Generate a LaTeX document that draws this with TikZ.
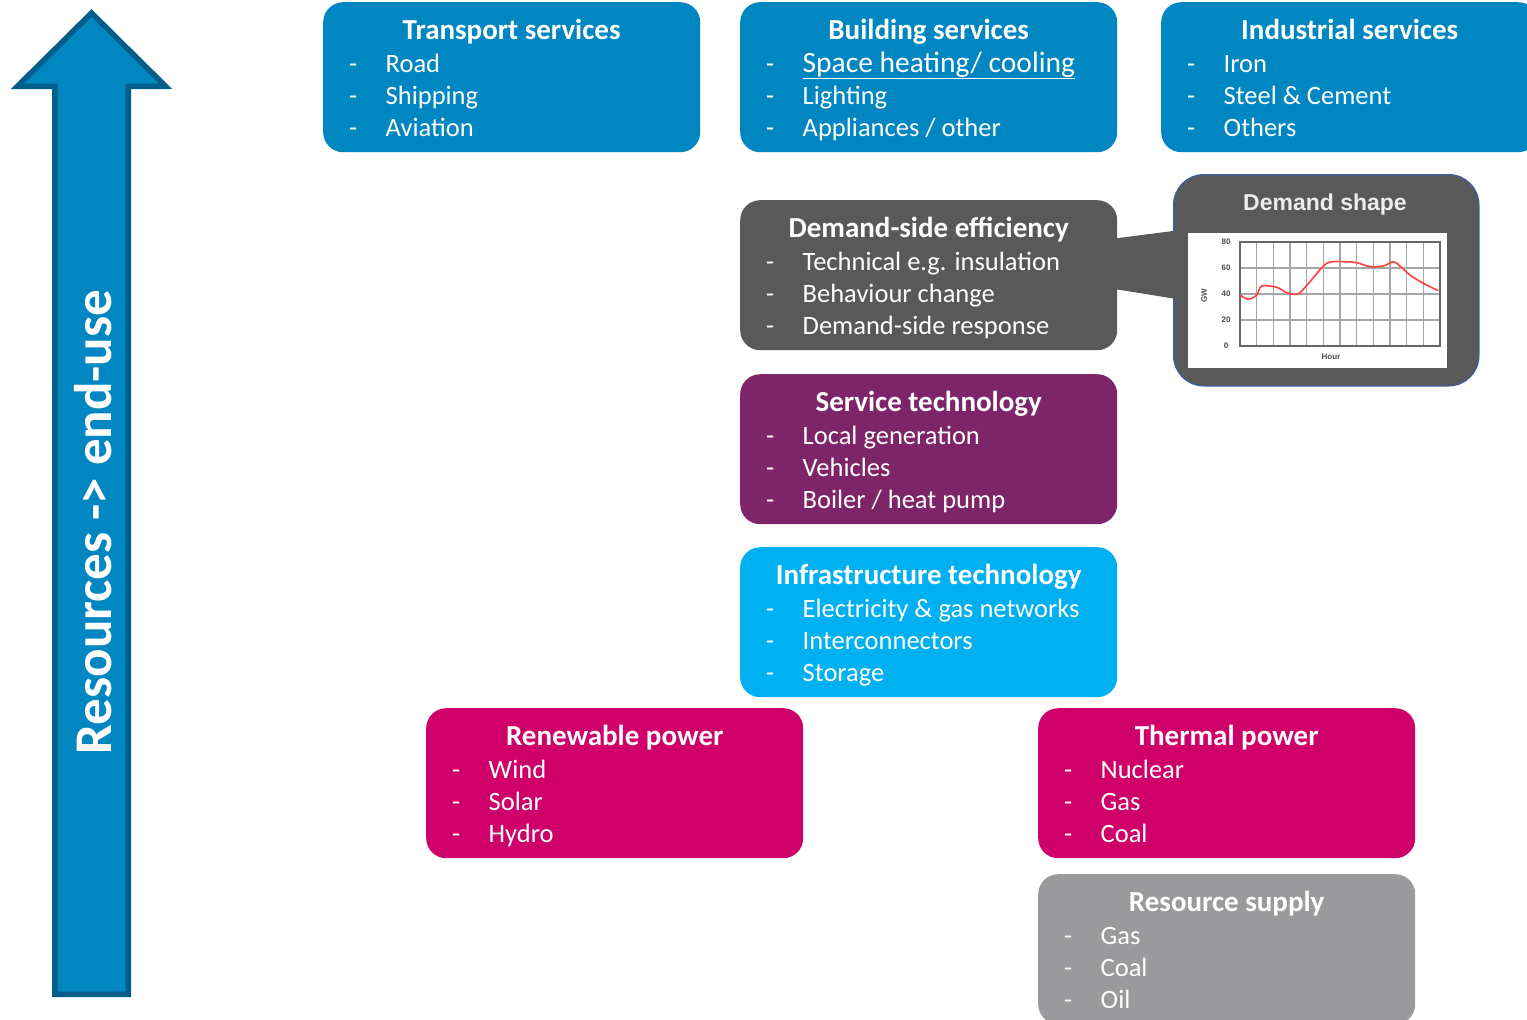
\documentclass[tikz,border=0pt]{standalone}
\usepackage{fontspec}
\setmainfont{Carlito}
\newfontfamily\chartfont{Liberation Sans}
\usetikzlibrary{calc}
\definecolor{tblue}{HTML}{0086C0}
\definecolor{aedge}{HTML}{005E8A}
\definecolor{dgrey}{HTML}{595959}
\definecolor{svpurple}{HTML}{7E2468}
\definecolor{infcyan}{HTML}{00B0F0}
\definecolor{pwmag}{HTML}{D0006A}
\definecolor{resgrey}{HTML}{9A9A9C}
\definecolor{callborder}{HTML}{3F5F8F}
\tikzset{
  card/.style={rounded corners=20pt, minimum width=377pt, minimum height=150pt, inner sep=0pt, draw=none},
  ttl/.style={font=\fontsize{29}{34}\selectfont\bfseries, text=white, inner sep=0pt, anchor=base},
  itm/.style={font=\fontsize{26.5}{31}\selectfont, text=white, anchor=base west, inner sep=0pt},
  gridln/.style={draw=gray!70, line width=1.1pt},
  ticklbl/.style={font=\chartfont\bfseries\fontsize{8}{9}\selectfont, text=black!70, inner sep=0pt},
}
\newcommand\infocard[8]{%
  \node[card, fill=#4, anchor=north west] (#1) at (#2,#3) {};
  \node[ttl] (#1-t) at ($(#1.north)+(0,37)$) {#5};
  \node[itm] (#1-d1) at ($(#1.north west)+(26,70)$) {-};
  \node[itm] (#1-i1) at ($(#1.north west)+(62.5,70)$) {#6};
  \node[itm] (#1-d2) at ($(#1.north west)+(26,102)$) {-};
  \node[itm] (#1-i2) at ($(#1.north west)+(62.5,102)$) {#7};
  \node[itm] (#1-d3) at ($(#1.north west)+(26,134)$) {-};
  \node[itm] (#1-i3) at ($(#1.north west)+(62.5,134)$) {#8};
}
\begin{document}
\begin{tikzpicture}[x=1pt,y=-1pt]
\useasboundingbox (0,0) rectangle (1527,1020);
\clip (0,0) rectangle (1527,1020);
\fill[white] (0,0) rectangle (1527,1020);

% big arrow
\draw[fill=tblue, draw=aedge, line width=5.5pt, line join=miter]
  (54.75,994.25) -- (54.75,86.25) -- (17.5,86.25) -- (91.5,13) -- (165.5,86.25)
  -- (128.25,86.25) -- (128.25,994.25) -- cycle;
\node[rotate=90, font=\fontsize{53}{58}\selectfont\bfseries, text=white, inner sep=0pt] (axis) at (93,522) {Resources -> end-use};

% cards
\infocard{trans}{323}{2}{tblue}{Transport services}{Road}{Shipping}{Aviation}
\infocard{build}{740}{2}{tblue}{Building services}{{\fontsize{29.5}{34}\selectfont\underline{Space heating/ cooling}}}{Lighting}{Appliances / other}
\infocard{indus}{1161}{2}{tblue}{Industrial services}{Iron}{Steel \& Cement}{Others}
\infocard{dse}{740}{200}{dgrey}{Demand-side efficiency}{Technical e.g. insulation}{Behaviour change}{Demand-side response}
\infocard{serv}{740}{374}{svpurple}{Service technology}{Local generation}{Vehicles}{Boiler / heat pump}
\infocard{infra}{740}{547}{infcyan}{Infrastructure technology}{Electricity \& gas networks}{Interconnectors}{Storage}
\infocard{renew}{426}{708}{pwmag}{Renewable power}{Wind}{Solar}{Hydro}
\infocard{therm}{1038}{708}{pwmag}{Thermal power}{Nuclear}{Gas}{Coal}
\infocard{res}{1038}{874}{resgrey}{Resource supply}{Gas}{Coal}{Oil}

% demand shape callout
\node[rounded corners=30pt, fill=dgrey, draw=callborder, line width=1.5pt, minimum width=305pt, minimum height=211pt, inner sep=0pt, anchor=north west] (dshape) at (1173,174) {};
\fill[dgrey] ($(dse.east)+(-8,-36)$) -- ($(dshape.west)+(2,-49.5)$) -- ($(dshape.west)+(2,18.5)$) -- ($(dse.east)+(-8,13)$) -- cycle;
\node[font=\chartfont\bfseries\fontsize{23}{26}\selectfont, text=white!93!black, inner sep=0pt] (dstitle) at (1325,205) {Demand shape};
\fill[white] (1188,233) rectangle (1447,368);
\foreach \k in {0,...,12} {\draw[gridln] ({1240+\k*200/12},242) -- ({1240+\k*200/12},346);}
\foreach \yy in {242,268,294,320,346} {\draw[gridln] (1240,\yy) -- (1440,\yy);}
\draw[gray!80!black, line width=1.2pt] (1240,242) rectangle (1440,346);
\node[ticklbl] (t80) at (1226,242) {80};
\node[ticklbl] (t60) at (1226,268) {60};
\node[ticklbl] (t40) at (1226,294) {40};
\node[ticklbl] (t20) at (1226,320) {20};
\node[ticklbl] (t0) at (1226,346) {0};
\node[ticklbl, rotate=90] (gw) at (1204,296) {GW};
\node[ticklbl] (hour) at (1331,357) {Hour};
\draw[red!75!white, line width=1.6pt] plot[smooth, tension=0.5] coordinates {
 (1240,295) (1248.3,299.3) (1256.7,295) (1261.7,286) (1276.7,287.3) (1286.7,292.7)
 (1295,294.3) (1300,292.7) (1310,281.7) (1326.7,263.3) (1343.3,261.7) (1356.7,262.7)
 (1370,266.7) (1383.3,266) (1393.3,261.7) (1400,266) (1410,275) (1423.3,283.3) (1438.3,290.7)};
\end{tikzpicture}
\end{document}
